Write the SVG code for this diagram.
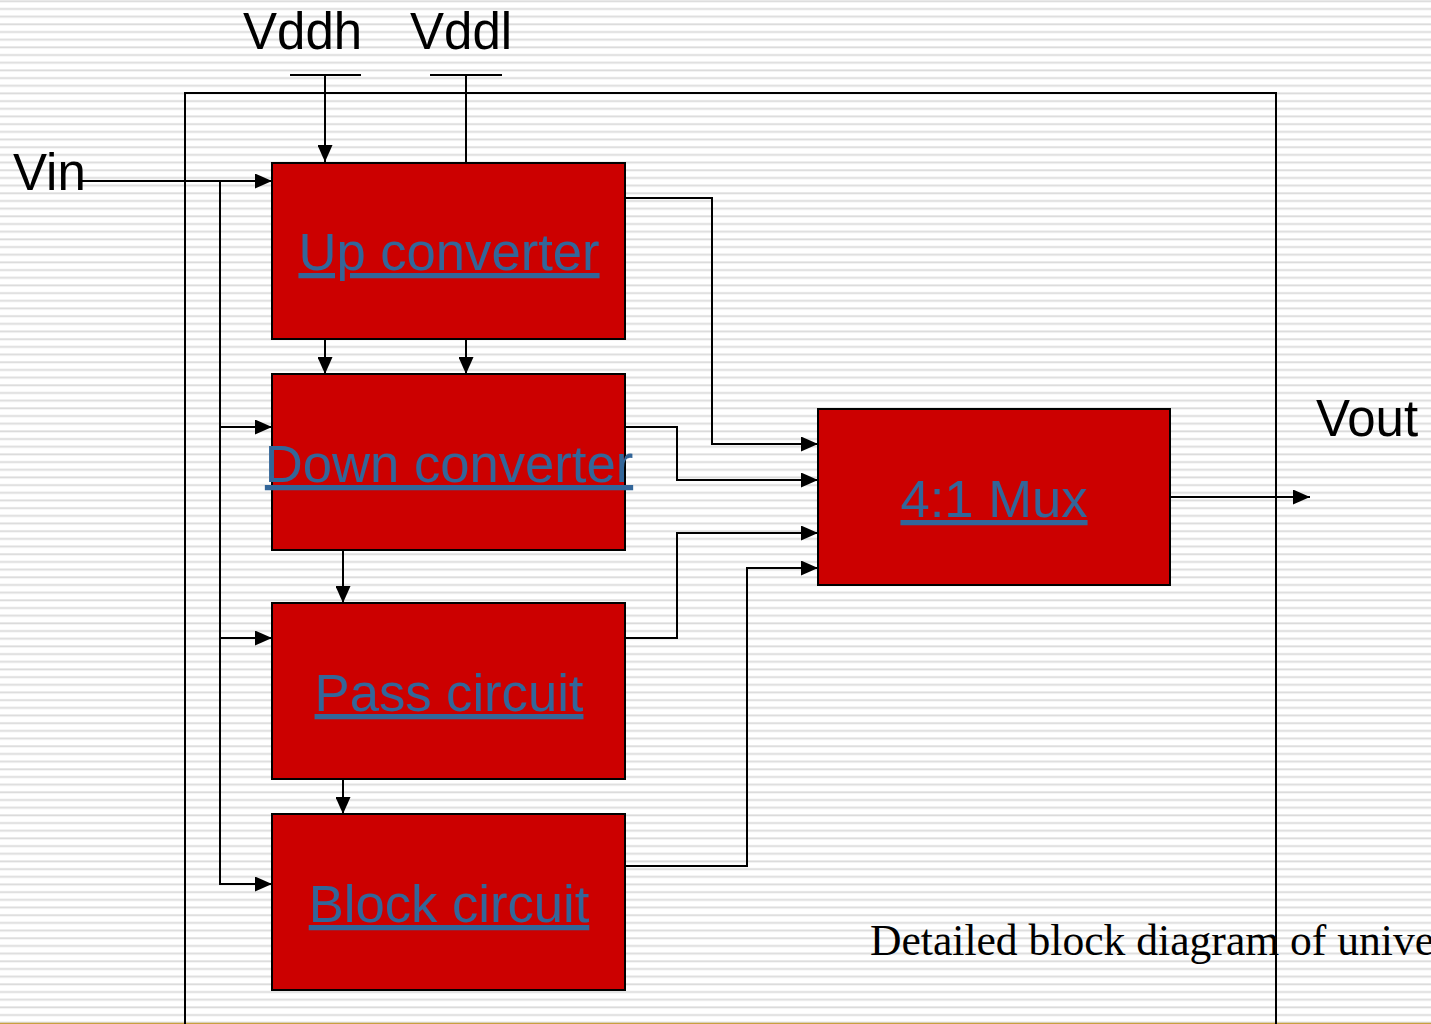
<svg xmlns="http://www.w3.org/2000/svg" width="1431" height="1024" viewBox="0 0 1431 1024">
<style>
.wire{fill:none;stroke:#000;stroke-width:2}
.box{fill:#CC0000;stroke:#000;stroke-width:2}
.lbl{font-family:"Liberation Sans",Arial,sans-serif;font-size:52.6px;fill:#336699;text-decoration:underline;text-anchor:middle}
.sig{font-family:"Liberation Sans",Arial,sans-serif;font-size:51px;fill:#000}
.cap{font-family:"Liberation Serif","Times New Roman",serif;font-size:43.6px;fill:#000}
</style>
<defs>
<pattern id="stripes" width="20" height="7.68" patternUnits="userSpaceOnUse">
<rect width="20" height="7.68" fill="#ffffff"/>
<rect y="0" width="20" height="1" fill="#e8e8e8"/>
<rect y="1" width="20" height="1.2" fill="#dadada"/>
</pattern>
<marker id="arr" viewBox="0 0 17 15" refX="17" refY="7.5" markerWidth="17" markerHeight="15" markerUnits="userSpaceOnUse" orient="auto">
<path d="M0,0 L17,7.5 L0,15 Z" fill="#000"/>
</marker>
</defs>
<rect width="1431" height="1024" fill="url(#stripes)"/>
<line x1="0" y1="1023.5" x2="1431" y2="1023.5" stroke="#c8a040" stroke-width="1.5"/>
<rect id="frame" x="185" y="93" width="1091" height="1000" fill="none" stroke="#000" stroke-width="2"/>
<g id="labels">
<text class="sig" x="243" y="49">Vddh</text>
<text class="sig" x="410" y="49">Vddl</text>
<text class="sig" x="13" y="190">Vin</text>
<text class="sig" x="1316" y="436">Vout</text>
<text class="cap" x="870" y="955">Detailed block diagram of unive</text>
</g>
<g id="connectors">
<line class="wire" x1="290" y1="75" x2="361" y2="75"/>
<line class="wire" x1="430" y1="75" x2="502" y2="75"/>
<line class="wire" x1="325" y1="75" x2="325" y2="162" marker-end="url(#arr)"/>
<line class="wire" x1="466" y1="75" x2="466" y2="163"/>
<line class="wire" x1="80" y1="181" x2="272" y2="181" marker-end="url(#arr)"/>
<line class="wire" x1="220" y1="181" x2="220" y2="885"/>
<line class="wire" x1="219" y1="427" x2="272" y2="427" marker-end="url(#arr)"/>
<line class="wire" x1="219" y1="638" x2="272" y2="638" marker-end="url(#arr)"/>
<line class="wire" x1="219" y1="884" x2="272" y2="884" marker-end="url(#arr)"/>
<line class="wire" x1="325" y1="339" x2="325" y2="374" marker-end="url(#arr)"/>
<line class="wire" x1="466" y1="339" x2="466" y2="374" marker-end="url(#arr)"/>
<line class="wire" x1="343" y1="550" x2="343" y2="603" marker-end="url(#arr)"/>
<line class="wire" x1="343" y1="779" x2="343" y2="814" marker-end="url(#arr)"/>
<polyline class="wire" points="625,198 712,198 712,444 818,444" marker-end="url(#arr)"/>
<polyline class="wire" points="625,427 677,427 677,480 818,480" marker-end="url(#arr)"/>
<polyline class="wire" points="625,638 677,638 677,533 818,533" marker-end="url(#arr)"/>
<polyline class="wire" points="625,866 747,866 747,568 818,568" marker-end="url(#arr)"/>
<line class="wire" x1="1170" y1="497" x2="1310" y2="497" marker-end="url(#arr)"/>
</g>
<g id="up"><rect class="box" x="272" y="163" width="353" height="176"/><text class="lbl" x="449" y="270">Up converter</text></g>
<g id="down"><rect class="box" x="272" y="374" width="353" height="176"/><text class="lbl" x="449" y="482">Down converter</text></g>
<g id="pass"><rect class="box" x="272" y="603" width="353" height="176"/><text class="lbl" x="449" y="711">Pass circuit</text></g>
<g id="block"><rect class="box" x="272" y="814" width="353" height="176"/><text class="lbl" x="449" y="922">Block circuit</text></g>
<g id="mux"><rect class="box" x="818" y="409" width="352" height="176"/><text class="lbl" x="994" y="517">4:1 Mux</text></g>
</svg>
